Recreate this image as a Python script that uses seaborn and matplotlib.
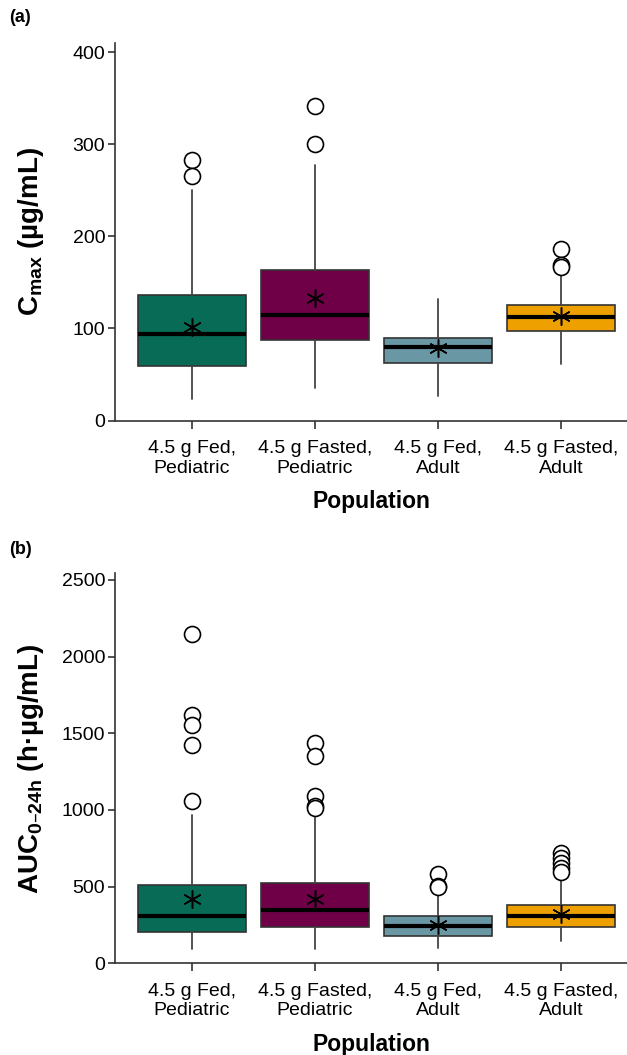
import pandas as pd
import matplotlib.pyplot as plt
import seaborn as sns

# ── Data ───────────────────────────────────────────────
groups = ['4.5 g Fed,\nPediatric', '4.5 g Fasted,\nPediatric',
          '4.5 g Fed,\nAdult', '4.5 g Fasted,\nAdult']
colors = ['#076B56', '#6F0047', '#6A97A4', '#EDA000']

# Cmax (µg/mL)
cmax_q1 = [59.7, 87.0, 63.0, 97.7]
cmax_med = [93.8, 114.7, 79.6, 112.6]
cmax_q3 = [136.0, 163.0, 90.0, 125.2]
cmax_lo = [23.0, 35.8, 26.8, 61.2]
cmax_hi = [250.5, 277.6, 131.8, 164.3]
cmax_mean = [102.0, 133.6, 79.3, 113.7]
cmax_out = [[282.7, 265.7], [341.7, 300.8], [], [186.8, 169.0, 167.2]]

# AUC0-24h (h·µg/mL)
auc_q1 = [204, 239, 180, 239]
auc_med = [311, 348, 241, 311]
auc_q3 = [509, 524, 309, 378]
auc_lo = [91, 91, 98, 146]
auc_hi = [967, 961, 500, 565]
auc_mean = [417, 417, 250, 320]
auc_out = [[2146, 1620, 1554, 1424, 1059], [1439, 1350, 1093, 1028, 1015],
           [583, 507, 496], [717, 685, 652, 620, 593]]

# ── Style ──────────────────────────────────────────────
sns.set_theme(style='ticks')
plt.rcParams['font.family'] = ['Liberation Sans', 'DejaVu Sans']
plt.rcParams['text.color'] = 'black'
plt.rcParams['axes.labelcolor'] = 'black'
plt.rcParams['axes.edgecolor'] = '#333333'
plt.rcParams['xtick.color'] = '#333333'
plt.rcParams['ytick.color'] = '#333333'
plt.rcParams['xtick.labelcolor'] = 'black'
plt.rcParams['ytick.labelcolor'] = 'black'


def draw_panel(ax, q1, med, q3, lo, hi, mean, out, ytop, yticks, ylabel):
    # outliers via seaborn (long form table)
    rows = [(g, v) for g, vals in zip(groups, out) for v in vals]
    out_df = pd.DataFrame(rows, columns=['group', 'value'])
    sns.stripplot(data=out_df, x='group', y='value', order=groups, jitter=False,
                  color='white', edgecolor='black', linewidth=1.2, size=11.5,
                  ax=ax, zorder=5)

    stats = []
    for i in range(len(groups)):
        stats.append(dict(med=med[i], q1=q1[i], q3=q3[i], whislo=lo[i],
                          whishi=hi[i], mean=mean[i], fliers=[]))
    bp = ax.bxp(stats, positions=range(len(groups)), widths=0.875,
                patch_artist=True, showfliers=False, showcaps=False,
                boxprops=dict(edgecolor='#333333', linewidth=1.2),
                medianprops=dict(color='black', linewidth=3),
                whiskerprops=dict(color='#444444', linewidth=1.3),
                manage_ticks=False)
    for box, c in zip(bp['boxes'], colors):
        box.set_facecolor(c)
        box.set_zorder(2)

    # means as asterisks
    ax.scatter(range(len(groups)), mean, marker=(6, 2, 0), s=160,
               color='black', linewidths=1.1, zorder=6)

    ax.set_xlim(-0.626, 3.537)
    ax.set_ylim(0, ytop)
    ax.set_yticks(yticks)
    ax.set_xticks(range(len(groups)))
    ax.set_xticklabels(groups, fontsize=14, linespacing=1.2)
    ax.tick_params(axis='y', labelsize=14, length=5, width=1.2, pad=2)
    ax.tick_params(axis='x', length=6, width=1.2, pad=8)
    ax.set_xlabel('Population', fontsize=16.5, fontweight='bold', labelpad=10)
    ax.set_ylabel(ylabel, fontsize=20, fontweight='bold')
    ax.yaxis.set_label_coords(-0.135, 0.5)
    sns.despine(ax=ax)
    for s in ['left', 'bottom']:
        ax.spines[s].set_linewidth(1.2)


fig = plt.figure(figsize=(6.27, 10.55), dpi=100)
ax1 = fig.add_axes([0.1834, 0.6014, 0.8166, 0.3576])
ax2 = fig.add_axes([0.1834, 0.0869, 0.8166, 0.3697])

draw_panel(ax1, cmax_q1, cmax_med, cmax_q3, cmax_lo, cmax_hi, cmax_mean, cmax_out,
           409.8, [0, 100, 200, 300, 400], r'C$_{\mathregular{max}}$ (µg/mL)')
draw_panel(ax2, auc_q1, auc_med, auc_q3, auc_lo, auc_hi, auc_mean, auc_out,
           2543, [0, 500, 1000, 1500, 2000, 2500],
           r'AUC$_{\mathregular{0–24h}}$ (h·µg/mL)')

fig.text(0.014, 1 - 18 / 1055, '(a)', fontsize=13, fontweight='bold', va='center')
fig.text(0.014, 1 - 550 / 1055, '(b)', fontsize=13, fontweight='bold', va='center')

plt.savefig('out.png', dpi=100)
